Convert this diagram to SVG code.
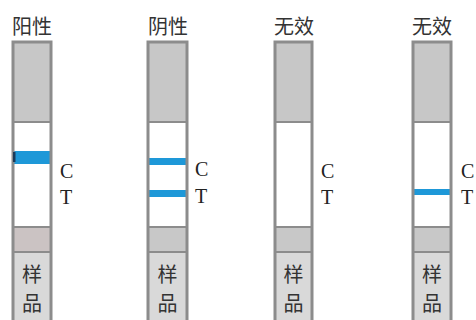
<svg xmlns="http://www.w3.org/2000/svg" width="476" height="320" viewBox="0 0 476 320">
<style>
.title{font-family:"Noto Sans CJK SC",sans-serif;font-size:20px;fill:#333;text-anchor:middle}
.smp{font-family:"Noto Sans CJK SC",sans-serif;font-size:20px;fill:#333;text-anchor:middle}
.lbl{font-family:"Liberation Serif",serif;font-size:20px;fill:#222}
.top{fill:#c7c7c7}
.win{fill:#ffffff}
.pad{fill:#c8c8c8}
.pad1{fill:#cbc3c3}
.base{fill:#d9d9d9}
.frame{fill:none;stroke:#8c8c8c;stroke-width:3}
.div{stroke:#8c8c8c;stroke-width:2}
.band{fill:#1e98d8}
</style>
<rect width="476" height="320" fill="#ffffff"/>
<g id="strip1">
<text class="title" x="32" y="34">阳性</text>
<rect class="top" x="13" y="42" width="38" height="80"/>
<rect class="win" x="13" y="122" width="38" height="105"/>
<rect class="pad1" x="13" y="227" width="38" height="25"/>
<rect class="base" x="13" y="252" width="38" height="70"/>
<line class="div" x1="13" y1="122" x2="51" y2="122"/>
<line class="div" x1="13" y1="227" x2="51" y2="227"/>
<line class="div" x1="13" y1="252" x2="51" y2="252"/>
<rect class="band" x="14" y="151" width="36" height="13"/>
<rect class="frame" x="13" y="42" width="38" height="282"/>
<rect x="13" y="152" width="2.5" height="10" fill="#1a3a5a"/>
<text class="smp" x="32" y="282">样</text>
<text class="smp" x="32" y="311">品</text>
<text class="lbl" x="60" y="178">C</text>
<text class="lbl" x="60" y="204">T</text>
</g>
<g id="strip2">
<text class="title" x="168" y="34">阴性</text>
<rect class="top" x="148" y="42" width="39" height="80"/>
<rect class="win" x="148" y="122" width="39" height="105"/>
<rect class="pad" x="148" y="227" width="39" height="25"/>
<rect class="base" x="148" y="252" width="39" height="70"/>
<line class="div" x1="148" y1="122" x2="187" y2="122"/>
<line class="div" x1="148" y1="227" x2="187" y2="227"/>
<line class="div" x1="148" y1="252" x2="187" y2="252"/>
<rect class="band" x="149" y="158" width="37" height="7"/>
<rect class="band" x="149" y="190" width="37" height="7"/>
<rect class="frame" x="148" y="42" width="39" height="282"/>
<text class="smp" x="167.5" y="282">样</text>
<text class="smp" x="167.5" y="311">品</text>
<text class="lbl" x="195" y="176">C</text>
<text class="lbl" x="195" y="203">T</text>
</g>
<g id="strip3">
<text class="title" x="294" y="34">无效</text>
<rect class="top" x="275" y="42" width="37" height="80"/>
<rect class="win" x="275" y="122" width="37" height="105"/>
<rect class="pad" x="275" y="227" width="37" height="25"/>
<rect class="base" x="275" y="252" width="37" height="70"/>
<line class="div" x1="275" y1="122" x2="312" y2="122"/>
<line class="div" x1="275" y1="227" x2="312" y2="227"/>
<line class="div" x1="275" y1="252" x2="312" y2="252"/>
<rect class="frame" x="275" y="42" width="37" height="282"/>
<text class="smp" x="293.5" y="282">样</text>
<text class="smp" x="293.5" y="311">品</text>
<text class="lbl" x="321" y="178">C</text>
<text class="lbl" x="321" y="204">T</text>
</g>
<g id="strip4">
<text class="title" x="432" y="34">无效</text>
<rect class="top" x="413" y="42" width="38" height="80"/>
<rect class="win" x="413" y="122" width="38" height="105"/>
<rect class="pad" x="413" y="227" width="38" height="25"/>
<rect class="base" x="413" y="252" width="38" height="70"/>
<line class="div" x1="413" y1="122" x2="451" y2="122"/>
<line class="div" x1="413" y1="227" x2="451" y2="227"/>
<line class="div" x1="413" y1="252" x2="451" y2="252"/>
<rect class="band" x="414" y="189" width="36" height="6"/>
<rect class="frame" x="413" y="42" width="38" height="282"/>
<text class="smp" x="432" y="282">样</text>
<text class="smp" x="432" y="311">品</text>
<text class="lbl" x="461" y="178">C</text>
<text class="lbl" x="461" y="204">T</text>
</g>
</svg>
